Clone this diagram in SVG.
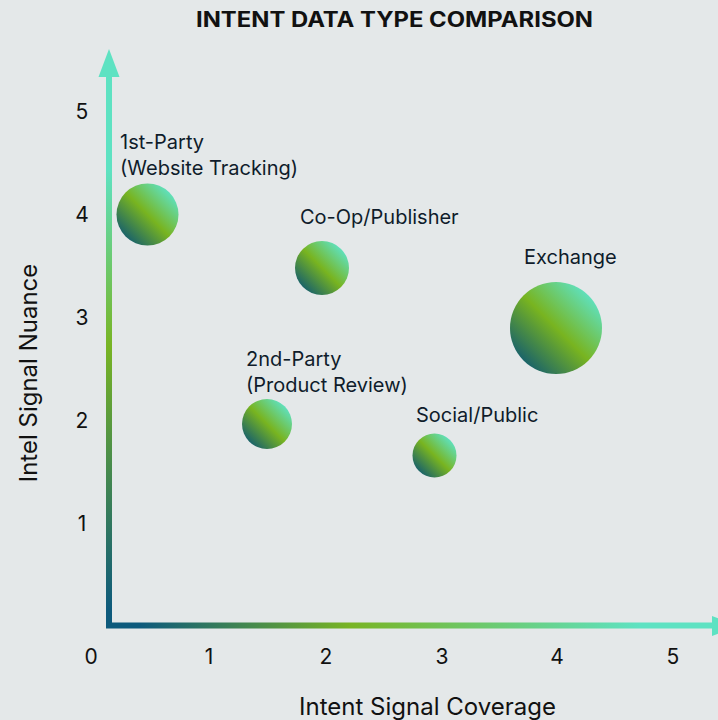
<svg xmlns="http://www.w3.org/2000/svg" width="718" height="720" viewBox="0 0 718 720">
  <defs>
    <!-- bubble fill: dark teal lower-left, green middle, mint upper-right -->
    <linearGradient id="bubbleGrad" x1="0" y1="1" x2="1" y2="0">
      <stop offset="0.12" stop-color="#145e6e"/>
      <stop offset="0.5" stop-color="#78b420"/>
      <stop offset="0.88" stop-color="#5ee3c6"/>
    </linearGradient>
    <linearGradient id="yAxisGrad" gradientUnits="userSpaceOnUse" x1="0" y1="610" x2="0" y2="170">
      <stop offset="0" stop-color="#0d5a7c"/>
      <stop offset="0.6" stop-color="#78b424"/>
      <stop offset="1" stop-color="#5ee2c2"/>
    </linearGradient>
    <linearGradient id="xAxisGrad" gradientUnits="userSpaceOnUse" x1="140" y1="0" x2="640" y2="0">
      <stop offset="0" stop-color="#0d5a7c"/>
      <stop offset="0.42" stop-color="#78b424"/>
      <stop offset="1" stop-color="#5ee2c2"/>
    </linearGradient>
    <style>
      .title { font-family: Inter, "Liberation Sans", sans-serif; font-weight: 700; font-size: 21px; fill: #111; }
      .tick { font-family: Inter, "Liberation Sans", sans-serif; font-size: 21px; fill: #111; text-anchor: middle; }
      .axis-title { font-family: Inter, "Liberation Sans", sans-serif; font-size: 24px; fill: #111; text-anchor: middle; }
      .label { font-family: Inter, "Liberation Sans", sans-serif; font-size: 20px; fill: #0f1c2b; }
      .bubble { fill: url(#bubbleGrad); }
    </style>
  </defs>

  <rect x="0" y="0" width="718" height="720" fill="#e4e8e9"/>

  <text class="title" x="196" y="27" textLength="397" lengthAdjust="spacingAndGlyphs">INTENT DATA TYPE COMPARISON</text>

  <!-- axes -->
  <g id="axes">
    <rect x="106" y="70" width="6" height="558" fill="url(#yAxisGrad)"/>
    <polygon points="109,49 119.5,77 98.5,77" fill="#5ee2c2"/>
    <rect x="106" y="622.5" width="610" height="6" fill="url(#xAxisGrad)"/>
    <polygon points="712,616 740,626 712,636" fill="#5ee2c2"/>
  </g>

  <!-- tick values -->
  <g id="x-ticks">
    <text class="tick" x="91" y="664">0</text>
    <text class="tick" x="209" y="664">1</text>
    <text class="tick" x="326" y="664">2</text>
    <text class="tick" x="442" y="664">3</text>
    <text class="tick" x="557" y="664">4</text>
    <text class="tick" x="673" y="664">5</text>
  </g>
  <g id="y-ticks">
    <text class="tick" x="82" y="119">5</text>
    <text class="tick" x="82" y="222">4</text>
    <text class="tick" x="82" y="325">3</text>
    <text class="tick" x="82" y="428">2</text>
    <text class="tick" x="82" y="531">1</text>
  </g>

  <text class="axis-title" x="427.5" y="715">Intent Signal Coverage</text>
  <text class="axis-title" transform="translate(37,373) rotate(-90)" x="0" y="0">Intel Signal Nuance</text>

  <!-- data points -->
  <g id="first-party">
    <circle class="bubble" cx="147.5" cy="214.5" r="31"/>
    <text class="label" x="120" y="149">1st-Party</text>
    <text class="label" x="120" y="175">(Website Tracking)</text>
  </g>
  <g id="co-op-publisher">
    <circle class="bubble" cx="322" cy="268" r="27"/>
    <text class="label" x="300" y="224">Co-Op/Publisher</text>
  </g>
  <g id="exchange">
    <circle class="bubble" cx="556" cy="328" r="46"/>
    <text class="label" x="524" y="264">Exchange</text>
  </g>
  <g id="second-party">
    <circle class="bubble" cx="267" cy="424" r="25"/>
    <text class="label" x="246" y="366">2nd-Party</text>
    <text class="label" x="246" y="392">(Product Review)</text>
  </g>
  <g id="social-public">
    <circle class="bubble" cx="434.5" cy="455.5" r="22"/>
    <text class="label" x="416" y="422">Social/Public</text>
  </g>
</svg>
